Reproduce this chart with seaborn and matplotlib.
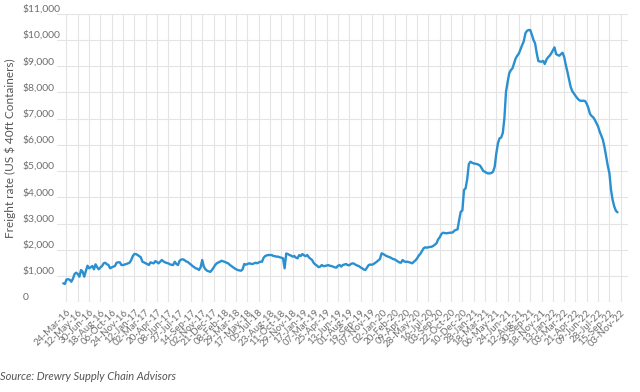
import numpy as np
import pandas as pd
import matplotlib
matplotlib.use("Agg")
import matplotlib.pyplot as plt
import seaborn as sns

# weekly composite freight rate (US$ per 40ft container), 7 weeks per row
rates = [
    725, 700, 870, 880, 860, 785, 900,
    1080, 1128, 1078, 976, 1231, 1166, 976,
    1200, 1395, 1296, 1334, 1383, 1258, 1448,
    1334, 1258, 1330, 1383, 1486, 1509, 1450,
    1421, 1296, 1334, 1360, 1383, 1509, 1524,
    1524, 1421, 1421, 1440, 1460, 1486, 1509,
    1600, 1760, 1840, 1840, 1803, 1760, 1715,
    1547, 1520, 1486, 1460, 1421, 1524, 1500,
    1486, 1574, 1530, 1486, 1547, 1612, 1560,
    1524, 1500, 1486, 1448, 1430, 1421, 1547,
    1460, 1420, 1585, 1630, 1639, 1612, 1560,
    1540, 1486, 1440, 1383, 1340, 1296, 1280,
    1231, 1334, 1612, 1360, 1258, 1204, 1180,
    1160, 1231, 1320, 1420, 1486, 1520, 1547,
    1585, 1560, 1540, 1510, 1486, 1430, 1383,
    1340, 1296, 1258, 1231, 1215, 1204, 1258,
    1460, 1434, 1460, 1486, 1470, 1460, 1480,
    1509, 1486, 1520, 1547, 1547, 1700, 1765,
    1790, 1803, 1800, 1803, 1765, 1760, 1740,
    1740, 1715, 1700, 1677, 1296, 1860, 1840,
    1803, 1780, 1740, 1765, 1700, 1677, 1800,
    1765, 1840, 1790, 1760, 1803, 1715, 1660,
    1612, 1500, 1440, 1400, 1340, 1360, 1421,
    1380, 1383, 1400, 1421, 1390, 1383, 1360,
    1334, 1322, 1390, 1421, 1360, 1421, 1440,
    1460, 1420, 1410, 1460, 1486, 1470, 1430,
    1400, 1380, 1330, 1296, 1250, 1231, 1330,
    1421, 1440, 1430, 1460, 1500, 1547, 1600,
    1650, 1867, 1840, 1800, 1765, 1740, 1720,
    1690, 1650, 1639, 1600, 1560, 1520, 1509,
    1612, 1560, 1540, 1547, 1530, 1510, 1486,
    1550, 1600, 1677, 1780, 1850, 1950, 2058,
    2096, 2080, 2100, 2110, 2119, 2150, 2200,
    2248, 2400, 2477, 2600, 2653, 2640, 2630,
    2640, 2650, 2653, 2660, 2729, 2760, 2780,
    3136, 3453, 3500, 4280, 4344, 4700, 5270,
    5358, 5320, 5295, 5280, 5271, 5244, 5206,
    5107, 5000, 4977, 4930, 4913, 4916, 4930,
    4980, 5168, 5678, 6060, 6250, 6280, 6450,
    7012, 8026, 8400, 8727, 8850, 8918, 9108,
    9300, 9400, 9489, 9650, 9806, 9950, 10252,
    10351, 10377, 10377, 10200, 10000, 9870, 9500,
    9196, 9180, 9170, 9200, 9082, 9250, 9337,
    9400, 9489, 9600, 9718, 9463, 9425, 9400,
    9460, 9512, 9350, 9050, 8788, 8500, 8216,
    8050, 7965, 7870, 7790, 7720, 7683, 7680,
    7683, 7670, 7560, 7400, 7180, 7100, 7050,
    6950, 6822, 6700, 6502, 6350, 6185, 5900,
    5549, 5200, 4916, 4280, 3900, 3650, 3491,
    3430,
]

date_labels = [
    "24-Mar-16", "12-May-16", "30-Jun-16", "18-Aug-16", "06-Oct-16", "24-Nov-16",
    "12-Jan-17", "02-Mar-17", "20-Apr-17", "08-Jun-17", "27-Jul-17", "14-Sep-17",
    "02-Nov-17", "21-Dec-17", "08-Feb-18", "29-Mar-18", "17-May-18", "05-Jul-18",
    "23-Aug-18", "11-Oct-18", "29-Nov-18", "17-Jan-19", "07-Mar-19", "25-Apr-19",
    "13-Jun-19", "01-Aug-19", "19-Sep-19", "07-Nov-19", "02-Jan-20", "20-Feb-20",
    "09-Apr-20", "28-May-20", "16-Jul-20", "03-Sep-20", "22-Oct-20", "10-Dec-20",
    "28-Jan-21", "18-Mar-21", "06-May-21", "24-Jun-21", "12-Aug-21", "30-Sep-21",
    "18-Nov-21", "13-Jan-22", "03-Mar-22", "21-Apr-22", "09-Jun-22", "28-Jul-22",
    "15-Sep-22", "03-Nov-22",
]

y_ticks = list(range(0, 12000, 1000))
y_labels = ["0"] + [f"${v:,}" for v in y_ticks[1:]]

df = pd.DataFrame({"week": np.arange(len(rates)), "rate": rates})

sns.set_theme(style="whitegrid")
plt.rcParams["font.family"] = ["Lato", "DejaVu Sans"]

fig = plt.figure(figsize=(6.4, 3.92), dpi=100)
ax = fig.add_axes([0.089, 0.2288, 0.892, 0.7362])

sns.lineplot(data=df, x="week", y="rate", ax=ax, color="#2b90cf", linewidth=1.7)

tick_pos = [7 * i + 2 for i in range(len(date_labels))]
ax.set_xticks(tick_pos)
ax.set_xticklabels(date_labels, rotation=45, ha="right", rotation_mode="anchor",
                   fontsize=7, color="#6e6e6e")
ax.set_xlim(-3.9, 349.4)

ax.set_yticks(y_ticks)
ax.set_yticklabels(y_labels, fontsize=7.5, color="#6e6e6e")
ax.set_ylim(0, 11000)
ax.tick_params(axis="y", length=0, pad=24.5)
ax.tick_params(axis="x", length=0, pad=4)
for lbl in ax.get_yticklabels():
    lbl.set_horizontalalignment("left")
    lbl.set_verticalalignment("bottom")

ax.grid(True, color="#e4e4e4", linewidth=0.8)
for s in ax.spines.values():
    s.set_visible(False)
ax.set_xlabel("")
ax.set_ylabel("")

fig.text(10 / 640, 1 - 148 / 392, "Freight rate (US $ 40ft Containers)", rotation=90,
         ha="center", va="center", fontsize=8.5, color="#555555")
fig.text(0, 1 - 377 / 392, "Source: Drewry Supply Chain Advisors", ha="left", va="center",
         fontsize=8, style="italic", color="#555555")

fig.savefig("out.png", dpi=100, facecolor="white")
